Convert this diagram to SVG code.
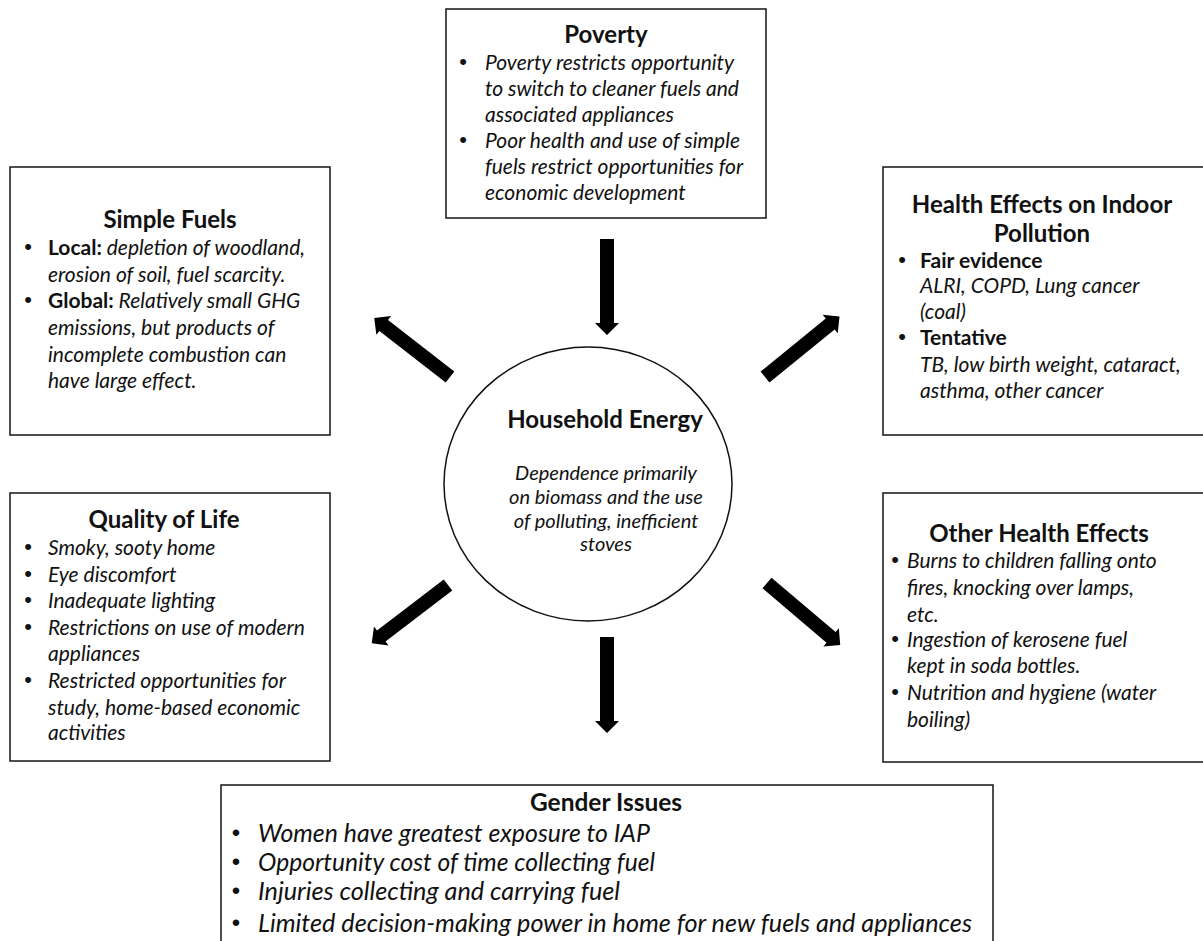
<svg xmlns="http://www.w3.org/2000/svg" xmlns:xlink="http://www.w3.org/1999/xlink" width="1203" height="941" viewBox="0 0 1203 941">
<style>
.box{fill:#fff;stroke:#222;stroke-width:1.6}
.ttl{font-family:Lato,"Open Sans","Liberation Sans",sans-serif;font-weight:bold;font-size:24px;fill:#111;text-anchor:middle}
.it{font-family:Lato,"Open Sans","Liberation Sans",sans-serif;font-style:italic;font-size:21px;fill:#111}
.bd{font-style:normal;font-weight:bold}
.dot{font-family:"Liberation Sans",Arial,sans-serif;font-size:22px;fill:#111;text-anchor:middle}
.git{font-family:Lato,"Open Sans","Liberation Sans",sans-serif;font-style:italic;font-size:25px;fill:#111}
.gdot{font-family:"Liberation Sans",Arial,sans-serif;font-size:24px;fill:#111;text-anchor:middle}
.he{font-family:Lato,"Open Sans","Liberation Sans",sans-serif;font-style:italic;font-size:20px;fill:#111;text-anchor:middle}
.arr{fill:#000}
</style>
<defs>
<path id="arrow" d="M0,-7 L84,-7 L84,-12 L96,0 L84,12 L84,7 L0,7 Z"/>
</defs>
<rect width="1203" height="941" fill="#fff"/>

<g id="connectors" class="arr">
<use xlink:href="#arrow" transform="translate(607,239) rotate(90)"/>
<use xlink:href="#arrow" transform="translate(450,377) rotate(217.9)"/>
<use xlink:href="#arrow" transform="translate(765,377) rotate(-39.1)"/>
<use xlink:href="#arrow" transform="translate(448,585) rotate(142.6)"/>
<use xlink:href="#arrow" transform="translate(767,583) rotate(40.3)"/>
<use xlink:href="#arrow" transform="translate(607,637) rotate(90)"/>
</g>

<g id="household-energy">
<ellipse cx="588" cy="484" rx="144" ry="137" fill="#fff" stroke="#111" stroke-width="1.5"/>
<text class="ttl" x="605" y="428">Household Energy</text>
<text class="he" x="606" y="480">Dependence primarily</text>
<text class="he" x="606" y="504">on biomass and the use</text>
<text class="he" x="606" y="528">of polluting, inefficient</text>
<text class="he" x="606" y="551">stoves</text>
</g>

<g id="poverty">
<rect class="box" x="446" y="9" width="320" height="209"/>
<text class="ttl" x="606" y="43">Poverty</text>
<text class="dot" x="463" y="69">•</text>
<text class="it" x="485" y="70">Poverty restricts opportunity</text>
<text class="it" x="485" y="96">to switch to cleaner fuels and</text>
<text class="it" x="485" y="122">associated appliances</text>
<text class="dot" x="463" y="147">•</text>
<text class="it" x="485" y="148">Poor health and use of simple</text>
<text class="it" x="485" y="174">fuels restrict opportunities for</text>
<text class="it" x="485" y="200">economic development</text>
</g>

<g id="simple-fuels">
<rect class="box" x="10" y="167" width="320" height="268"/>
<text class="ttl" x="170" y="228">Simple Fuels</text>
<text class="dot" x="28" y="254">•</text>
<text class="it" x="48" y="255"><tspan class="bd">Local:</tspan> depletion of woodland,</text>
<text class="it" x="48" y="282">erosion of soil, fuel scarcity.</text>
<text class="dot" x="28" y="307">•</text>
<text class="it" x="48" y="308"><tspan class="bd">Global:</tspan> Relatively small GHG</text>
<text class="it" x="48" y="335">emissions, but products of</text>
<text class="it" x="48" y="362">incomplete combustion can</text>
<text class="it" x="48" y="388">have large effect.</text>
</g>

<g id="health-effects-indoor">
<rect class="box" x="883" y="167" width="325" height="268"/>
<text class="ttl" x="1042" y="213">Health Effects on Indoor</text>
<text class="ttl" x="1042" y="242">Pollution</text>
<text class="dot" x="902" y="267">•</text>
<text class="it bd" x="920" y="268">Fair evidence</text>
<text class="it" x="920" y="293">ALRI, COPD, Lung cancer</text>
<text class="it" x="920" y="319">(coal)</text>
<text class="dot" x="902" y="344">•</text>
<text class="it bd" x="920" y="345">Tentative</text>
<text class="it" x="920" y="372">TB, low birth weight, cataract,</text>
<text class="it" x="920" y="398">asthma, other cancer</text>
</g>

<g id="quality-of-life">
<rect class="box" x="10" y="493" width="320" height="268"/>
<text class="ttl" x="164" y="528">Quality of Life</text>
<text class="dot" x="28" y="554">•</text>
<text class="it" x="48" y="555">Smoky, sooty home</text>
<text class="dot" x="28" y="581">•</text>
<text class="it" x="48" y="582">Eye discomfort</text>
<text class="dot" x="28" y="607">•</text>
<text class="it" x="48" y="608">Inadequate lighting</text>
<text class="dot" x="28" y="634">•</text>
<text class="it" x="48" y="635">Restrictions on use of modern</text>
<text class="it" x="48" y="661">appliances</text>
<text class="dot" x="28" y="687">•</text>
<text class="it" x="48" y="688">Restricted opportunities for</text>
<text class="it" x="48" y="715">study, home-based economic</text>
<text class="it" x="48" y="740">activities</text>
</g>

<g id="other-health-effects">
<rect class="box" x="883" y="493" width="325" height="269"/>
<text class="ttl" x="1039" y="542">Other Health Effects</text>
<text class="dot" x="895" y="567">•</text>
<text class="it" x="907" y="568">Burns to children falling onto</text>
<text class="it" x="907" y="595">fires, knocking over lamps,</text>
<text class="it" x="907" y="622">etc.</text>
<text class="dot" x="895" y="646">•</text>
<text class="it" x="907" y="647">Ingestion of kerosene fuel</text>
<text class="it" x="907" y="673">kept in soda bottles.</text>
<text class="dot" x="895" y="699">•</text>
<text class="it" x="907" y="700">Nutrition and hygiene (water</text>
<text class="it" x="907" y="727">boiling)</text>
</g>

<g id="gender-issues">
<rect class="box" x="221" y="785" width="772" height="170"/>
<text class="ttl" x="606" y="811" textLength="152" lengthAdjust="spacingAndGlyphs">Gender Issues</text>
<text class="gdot" x="236" y="841">•</text>
<text class="git" x="258" y="842" textLength="392" lengthAdjust="spacingAndGlyphs">Women have greatest exposure to IAP</text>
<text class="gdot" x="236" y="870">•</text>
<text class="git" x="258" y="871" textLength="397" lengthAdjust="spacingAndGlyphs">Opportunity cost of time  collecting fuel</text>
<text class="gdot" x="236" y="899">•</text>
<text class="git" x="258" y="900" textLength="362" lengthAdjust="spacingAndGlyphs">Injuries collecting and carrying fuel</text>
<text class="gdot" x="236" y="931">•</text>
<text class="git" x="258" y="932" textLength="714" lengthAdjust="spacingAndGlyphs">Limited decision-making power in home for new fuels and appliances</text>
</g>
</svg>
